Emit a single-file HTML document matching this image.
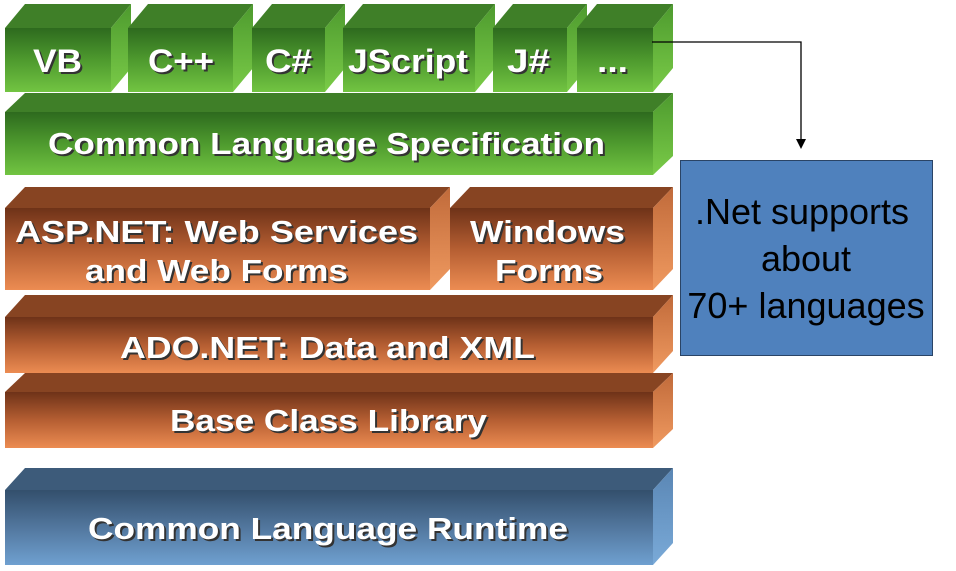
<!DOCTYPE html>
<html><head><meta charset="utf-8"><style>
html,body{margin:0;padding:0;background:#fff;}
svg{display:block;}
.t{font-family:"Liberation Sans",Arial,sans-serif;font-weight:bold;fill:#fff;}
.s{font-family:"Liberation Sans",Arial,sans-serif;font-weight:bold;fill:#333;}
.n{font-family:"Liberation Sans",Arial,sans-serif;fill:#000;text-anchor:middle;font-size:36px;}
</style></head><body>
<svg width="956" height="571" viewBox="0 0 956 571" xmlns="http://www.w3.org/2000/svg">
<defs>
<linearGradient id="gf" x1="0" y1="0" x2="0" y2="1"><stop offset="0" stop-color="#2d6a1e"/><stop offset="0.5" stop-color="#4e9a2e"/><stop offset="1" stop-color="#72c442"/></linearGradient>
<linearGradient id="gs" x1="0" y1="0" x2="0" y2="1"><stop offset="0" stop-color="#4d9a2e"/><stop offset="1" stop-color="#7acb48"/></linearGradient>
<linearGradient id="of" x1="0" y1="0" x2="0" y2="1"><stop offset="0" stop-color="#6e3218"/><stop offset="0.5" stop-color="#b55e32"/><stop offset="1" stop-color="#ec8c52"/></linearGradient>
<linearGradient id="os" x1="0" y1="0" x2="0" y2="1"><stop offset="0" stop-color="#c06a3a"/><stop offset="1" stop-color="#f09a60"/></linearGradient>
<linearGradient id="bf" x1="0" y1="0" x2="0" y2="1"><stop offset="0" stop-color="#334f6c"/><stop offset="0.5" stop-color="#52779e"/><stop offset="1" stop-color="#6fa0d0"/></linearGradient>
<linearGradient id="bs" x1="0" y1="0" x2="0" y2="1"><stop offset="0" stop-color="#5a86b4"/><stop offset="1" stop-color="#7aaad8"/></linearGradient>
</defs>

<polygon points="5,28 25,4 131,4 111,28" fill="#3f7f28"/>
<polygon points="111,28 131,4 131,68 111,92" fill="url(#gs)"/>
<rect x="5" y="28" width="106" height="64" fill="url(#gf)"/>
<polygon points="128,28 148,4 253,4 233,28" fill="#3f7f28"/>
<polygon points="233,28 253,4 253,68 233,92" fill="url(#gs)"/>
<rect x="128" y="28" width="105" height="64" fill="url(#gf)"/>
<polygon points="252,28 272,4 345,4 325,28" fill="#3f7f28"/>
<polygon points="325,28 345,4 345,68 325,92" fill="url(#gs)"/>
<rect x="252" y="28" width="73" height="64" fill="url(#gf)"/>
<polygon points="343,28 363,4 495,4 475,28" fill="#3f7f28"/>
<polygon points="475,28 495,4 495,68 475,92" fill="url(#gs)"/>
<rect x="343" y="28" width="132" height="64" fill="url(#gf)"/>
<polygon points="493,28 513,4 587,4 567,28" fill="#3f7f28"/>
<polygon points="567,28 587,4 587,68 567,92" fill="url(#gs)"/>
<rect x="493" y="28" width="74" height="64" fill="url(#gf)"/>
<polygon points="577,28 597,4 673,4 653,28" fill="#3f7f28"/>
<polygon points="653,28 673,4 673,68 653,92" fill="url(#gs)"/>
<rect x="577" y="28" width="76" height="64" fill="url(#gf)"/>

<g font-size="32">
<text class="s" x="35" y="74" textLength="49" lengthAdjust="spacingAndGlyphs">VB</text><text class="t" x="33" y="72" textLength="49" lengthAdjust="spacingAndGlyphs">VB</text>
<text class="s" x="150" y="74" textLength="66" lengthAdjust="spacingAndGlyphs">C++</text><text class="t" x="148" y="72" textLength="66" lengthAdjust="spacingAndGlyphs">C++</text>
<text class="s" x="267" y="74" textLength="47" lengthAdjust="spacingAndGlyphs">C#</text><text class="t" x="265" y="72" textLength="47" lengthAdjust="spacingAndGlyphs">C#</text>
<text class="s" x="350" y="74" textLength="120" lengthAdjust="spacingAndGlyphs">JScript</text><text class="t" x="348" y="72" textLength="120" lengthAdjust="spacingAndGlyphs">JScript</text>
<text class="s" x="509" y="74" textLength="43" lengthAdjust="spacingAndGlyphs">J#</text><text class="t" x="507" y="72" textLength="43" lengthAdjust="spacingAndGlyphs">J#</text>
<text class="s" x="599" y="74" textLength="31" lengthAdjust="spacingAndGlyphs">...</text><text class="t" x="597" y="72" textLength="31" lengthAdjust="spacingAndGlyphs">...</text>
</g>

<polygon points="5,112 25,93 673,93 653,112" fill="#3f7f28"/>
<polygon points="653,112 673,93 673,156 653,175" fill="url(#gs)"/>
<rect x="5" y="112" width="648" height="63" fill="url(#gf)"/>
<text class="s" x="50" y="156" font-size="31" textLength="557" lengthAdjust="spacingAndGlyphs">Common Language Specification</text>
<text class="t" x="48" y="154" font-size="31" textLength="557" lengthAdjust="spacingAndGlyphs">Common Language Specification</text>

<polygon points="5,208 25,187 450,187 430,208" fill="#874422"/>
<polygon points="430,208 450,187 450,269 430,290" fill="url(#os)"/>
<rect x="5" y="208" width="425" height="82" fill="url(#of)"/>
<polygon points="450,208 470,187 673,187 653,208" fill="#874422"/>
<polygon points="653,208 673,187 673,269 653,290" fill="url(#os)"/>
<rect x="450" y="208" width="203" height="82" fill="url(#of)"/>
<g font-size="31">
<text class="s" x="17" y="244" textLength="403" lengthAdjust="spacingAndGlyphs">ASP.NET: Web Services</text><text class="t" x="15" y="242" textLength="403" lengthAdjust="spacingAndGlyphs">ASP.NET: Web Services</text>
<text class="s" x="87" y="283" textLength="263" lengthAdjust="spacingAndGlyphs">and Web Forms</text><text class="t" x="85" y="281" textLength="263" lengthAdjust="spacingAndGlyphs">and Web Forms</text>
<text class="s" x="472" y="244" textLength="155" lengthAdjust="spacingAndGlyphs">Windows</text><text class="t" x="470" y="242" textLength="155" lengthAdjust="spacingAndGlyphs">Windows</text>
<text class="s" x="497" y="283" textLength="108" lengthAdjust="spacingAndGlyphs">Forms</text><text class="t" x="495" y="281" textLength="108" lengthAdjust="spacingAndGlyphs">Forms</text>
</g>

<polygon points="5,317 25,295 673,295 653,317" fill="#874422"/>
<polygon points="653,317 673,295 673,351 653,373" fill="url(#os)"/>
<rect x="5" y="317" width="648" height="56" fill="url(#of)"/>
<text class="s" x="122" y="360" font-size="31" textLength="415" lengthAdjust="spacingAndGlyphs">ADO.NET: Data and XML</text>
<text class="t" x="120" y="358" font-size="31" textLength="415" lengthAdjust="spacingAndGlyphs">ADO.NET: Data and XML</text>

<polygon points="5,392 25,373 673,373 653,392" fill="#874422"/>
<polygon points="653,392 673,373 673,429 653,448" fill="url(#os)"/>
<rect x="5" y="392" width="648" height="56" fill="url(#of)"/>
<text class="s" x="172" y="433" font-size="31" textLength="317" lengthAdjust="spacingAndGlyphs">Base Class Library</text>
<text class="t" x="170" y="431" font-size="31" textLength="317" lengthAdjust="spacingAndGlyphs">Base Class Library</text>

<polygon points="5,490 25,468 673,468 653,490" fill="#3d5b7a"/>
<polygon points="653,490 673,468 673,543 653,565" fill="url(#bs)"/>
<rect x="5" y="490" width="648" height="75" fill="url(#bf)"/>
<text class="s" x="90" y="541" font-size="31" textLength="480" lengthAdjust="spacingAndGlyphs">Common Language Runtime</text>
<text class="t" x="88" y="539" font-size="31" textLength="480" lengthAdjust="spacingAndGlyphs">Common Language Runtime</text>

<polyline points="652,42 801,42 801,140" fill="none" stroke="#000" stroke-width="1.3"/>
<polygon points="796,139 806,139 801,149" fill="#000"/>

<rect x="680.5" y="160.5" width="252" height="195" fill="#4f81bd" stroke="#2a4466" stroke-width="1"/>
<text class="n" x="802" y="224">.Net supports</text>
<text class="n" x="806" y="271">about</text>
<text class="n" x="806" y="318">70+ languages</text>
</svg>
</body></html>
